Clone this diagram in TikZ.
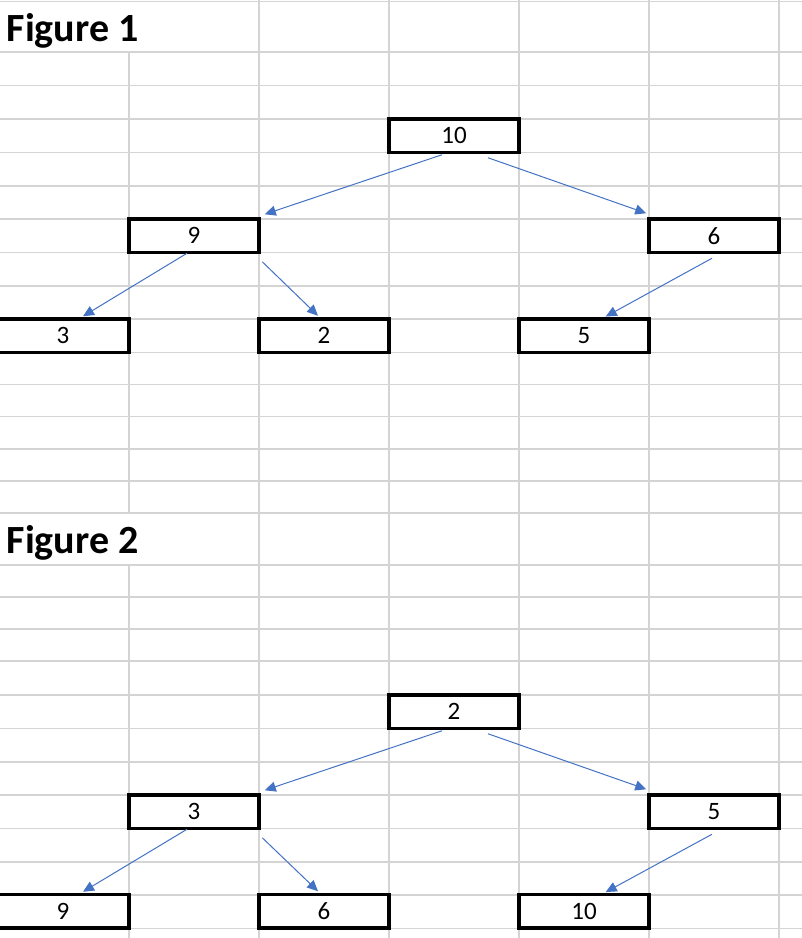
\documentclass[tikz,border=0pt]{standalone}
\usepackage{fontspec}
\setmainfont{Carlito}
\usetikzlibrary{arrows.meta,calc}
\definecolor{gridgray}{HTML}{D4D4D4}
\definecolor{arrowblue}{HTML}{4472C4}
\tikzset{
  gridline/.style={draw=gridgray,line width=1.7pt},
  cellbox/.style={draw=black,line width=3.5pt,fill=white,rectangle,inner sep=0pt,
    minimum width=130pt,minimum height=33.5pt,font=\fontsize{25}{25}\selectfont},
  leftbox/.style={cellbox,minimum width=132pt},
  link/.style={draw=arrowblue,line width=1pt,-{Triangle[length=11pt,width=10pt]}},
  title/.style={anchor=base west,inner sep=0pt,font=\fontsize{40}{40}\selectfont\bfseries}
}
\begin{document}
\begin{tikzpicture}[x=1pt,y=-1pt]
\useasboundingbox (0,0) rectangle (802,938);
\fill[white] (0,0) rectangle (802,938);
% horizontal grid lines
\foreach \yy in {1.5,52,85.5,119,152.5,186,219,252.5,286,319,352.5,384.5,416.5,449,481,513,565,597,629,661,695,728.5,762,795,828.5,862,895,928.5}
  \draw[gridline] (0,\yy) -- (802,\yy);
% vertical grid lines
\draw[gridline] (129,52) -- (129,513);
\draw[gridline] (129,565) -- (129,938);
\foreach \xx in {259,389,519,649,779}
  \draw[gridline] (\xx,0) -- (\xx,938);
% titles
\node[title] (t1) at (6.5,41.7) {Figure 1};
\node[title] (t2) at (6.5,553.3) {Figure 2};
% Figure 1 nodes
\node[cellbox] (a10) at (454,135.75) {10};
\node[cellbox] (a9) at (194,235.75) {9};
\node[cellbox] (a6) at (714,235.75) {6};
\node[leftbox] (a3) at (63,335.75) {3};
\node[cellbox] (a2) at (324,335.75) {2};
\node[cellbox] (a5) at (584,335.75) {5};
% Figure 2 nodes
\node[cellbox] (b2) at (454,711.75) {2};
\node[cellbox] (b3) at (194,811.75) {3};
\node[cellbox] (b5) at (714,811.75) {5};
\node[leftbox] (b9) at (63,911.25) {9};
\node[cellbox] (b6) at (324,911.25) {6};
\node[cellbox] (b10) at (584,911.25) {10};
% Figure 1 connectors
\draw[link] ($(a10.south)+(-12,0.5)$) -- ($(a9.north east)+(4,-3)$);
\draw[link] ($(a10.south)+(34,3.5)$) -- ($(a6.north west)+(-1,-4)$);
\draw[link] ($(a9.south)+(-7,-1)$) -- ($(a3.north)+(20,-1)$);
\draw[link] ($(a9.south east)+(1.5,7.5)$) -- ($(a2.north)+(-6,-1.5)$);
\draw[link] ($(a6.south)+(-2,4)$) -- ($(a5.north)+(21.7,-0.7)$);
% Figure 2 connectors
\draw[link] ($(b2.south)+(-12,0.5)$) -- ($(b3.north east)+(4,-3)$);
\draw[link] ($(b2.south)+(34,3.5)$) -- ($(b5.north west)+(-1,-4)$);
\draw[link] ($(b3.south)+(-7,-1)$) -- ($(b9.north)+(20,-1)$);
\draw[link] ($(b3.south east)+(1.5,7.5)$) -- ($(b6.north)+(-6,-1.5)$);
\draw[link] ($(b5.south)+(-2,4)$) -- ($(b10.north)+(21.7,-0.7)$);
\end{tikzpicture}
\end{document}
